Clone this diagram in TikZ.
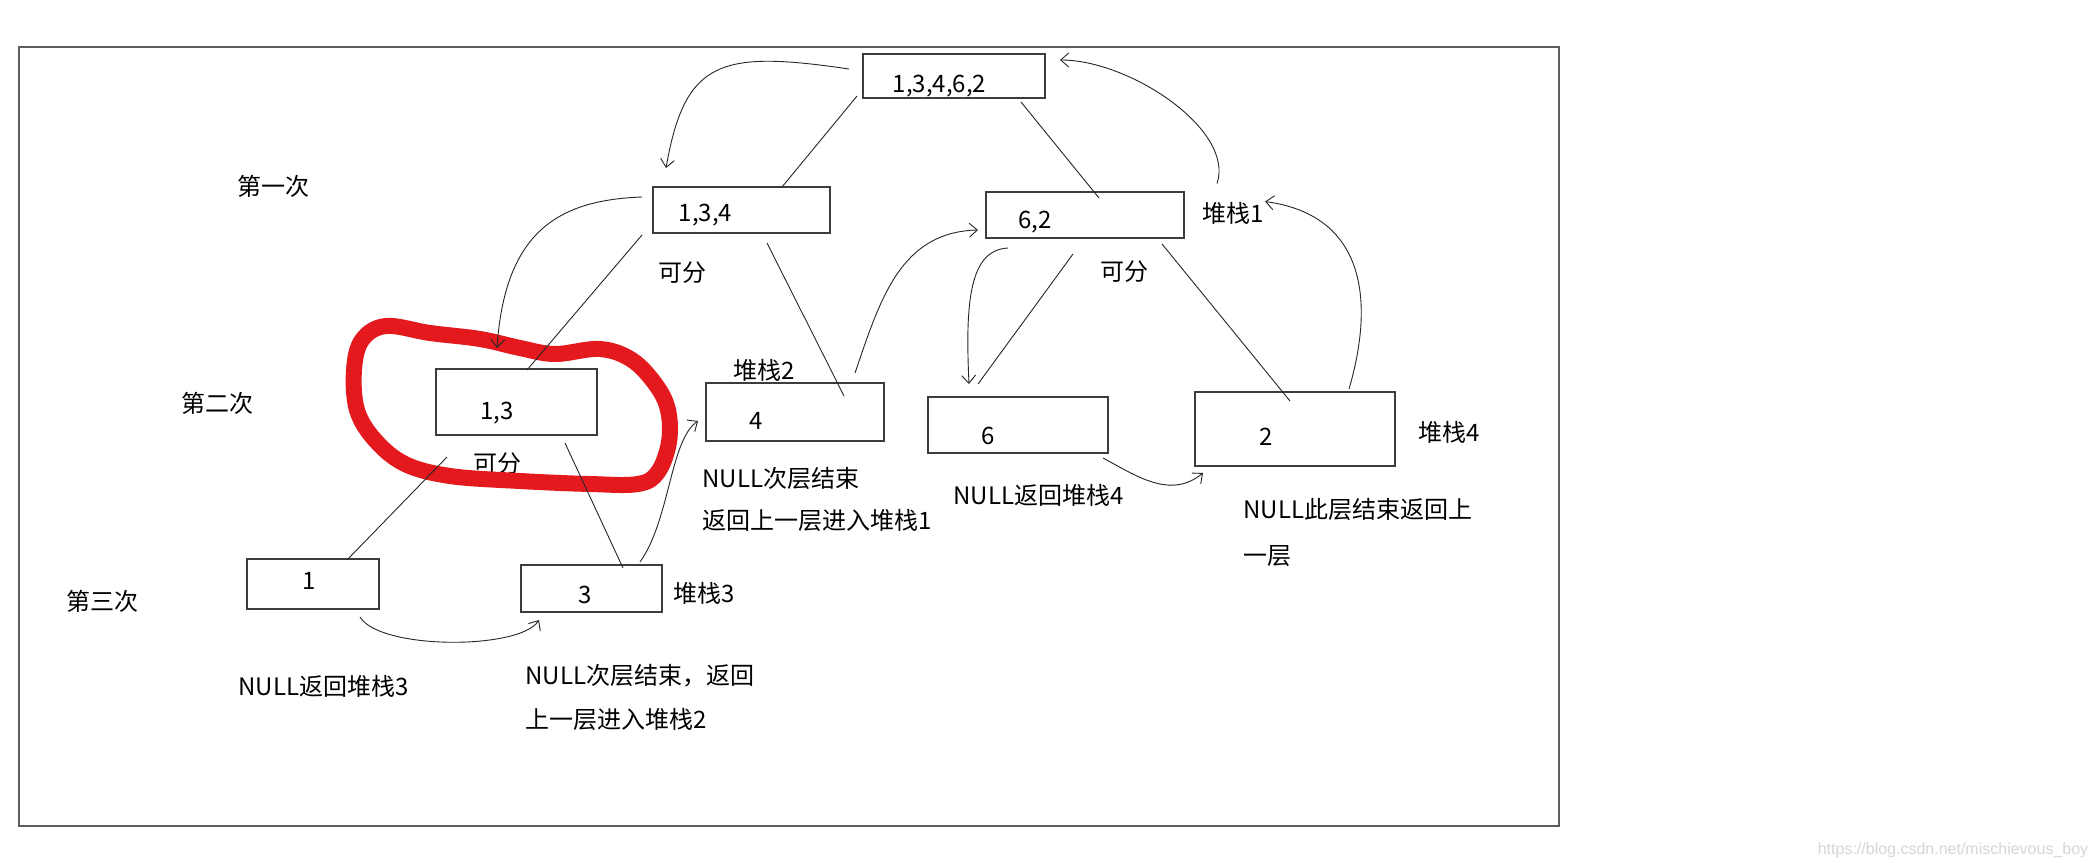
\documentclass[tikz,border=0pt]{standalone}
\usepackage{fontspec}
\setmainfont{Noto Sans CJK SC}
\newfontfamily\urlfont{Liberation Sans}
\usepackage{xcolor}
\usepackage{tikz}
\usetikzlibrary{calc, arrows.meta}

\definecolor{inkred}{HTML}{E3191E}
\definecolor{boxline}{HTML}{3C3C3C}
\definecolor{framegray}{HTML}{5E5E5E}

\begin{document}
\begin{tikzpicture}[
    x=0.5pt, y=-0.5pt,
    every node/.style={font=\fontsize{12pt}{14pt}\selectfont, inner sep=0pt},
    box/.style={rectangle, draw=boxline, line width=0.75pt, outer sep=0pt},
    num/.style={inner sep=0pt},
    note/.style={align=left, anchor=west, font=\fontsize{12pt}{#1}\selectfont},
    note/.default=22pt,
    edge/.style={line width=0.45pt, black!85},
    hand/.style={-{Straight Barb[length=4pt, width=7pt]}, line width=0.45pt, black!85},
    ring/.style={inkred, line width=8pt, line cap=round, line join=round},
]
    \fill[white] (0,0) rectangle (2097,862);
    \useasboundingbox (0,0) rectangle (2097,862);
    \draw[framegray, line width=1pt] (19,47) rectangle (1559,826);

    \node[box, minimum width=91pt, minimum height=22pt,
          label={[num, name=all-t, xshift=-7.25pt, yshift=-5pt]center:{1,3,4,6,2}}] (all) at (954,76) {};
    \node[box, minimum width=88.5pt, minimum height=23pt,
          label={[num, name=n134-t, xshift=-18pt, yshift=-2.5pt]center:{1,3,4}}] (n134) at (741.5,210) {};
    \node[box, minimum width=99pt, minimum height=23pt,
          label={[num, name=n62-t, xshift=-25pt, yshift=-3.5pt]center:{6,2}}] (n62) at (1085,215) {};
    \node[box, minimum width=80.5pt, minimum height=33pt,
          label={[num, name=n13-t, xshift=-9.75pt, yshift=-5.5pt]center:{1,3}}] (n13) at (516.5,402) {};
    \node[box, minimum width=89pt, minimum height=29pt,
          label={[num, name=n4-t, xshift=-19.5pt, yshift=-4.5pt]center:{4}}] (n4) at (795,412) {};
    \node[box, minimum width=90pt, minimum height=28pt,
          label={[num, name=n6-t, xshift=-15pt, yshift=-5.5pt]center:{6}}] (n6) at (1018,425) {};
    \node[box, minimum width=100pt, minimum height=37pt,
          label={[num, name=n2-t, xshift=-14.5pt, yshift=-4pt]center:{2}}] (n2) at (1295,429) {};
    \node[box, minimum width=66pt, minimum height=25pt,
          label={[num, name=n1-t, xshift=-2pt, yshift=1.5pt]center:{1}}] (n1) at (313,584) {};
    \node[box, minimum width=70.5pt, minimum height=23.5pt,
          label={[num, name=n3-t, xshift=-3.25pt, yshift=-3.25pt]center:{3}}] (n3) at (591.5,588.5) {};

    \node (first)  at (273,186) {第一次};
    \node (second) at (217,403) {第二次};
    \node (third)  at (102,601) {第三次};

    \node (split1) at (682,273)  {可分};
    \node (split2) at (1124,272) {可分};
    \node (split3) at (497,464)  {可分};

    \node (stk1) at (1233,213) {堆栈1};
    \node (stk2) at (764,370)  {堆栈2};
    \node (stk3) at (704,593)  {堆栈3};
    \node (stk4) at (1449,432) {堆栈4};

    \node[note=21pt] (note4) at (702,499)  {NULL次层结束\\返回上一层进入堆栈1};
    \node[note]      (note6) at (953,495)  {NULL返回堆栈4};
    \node[note=23pt] (note2) at (1243,532) {NULL此层结束返回上\\一层};
    \node[note]      (note1) at (238,686)  {NULL返回堆栈3};
    \node[note=22pt] (note3) at (525,697)  {NULL次层结束，返回\\上一层进入堆栈2};

    \node[font=\urlfont\fontsize{8pt}{9pt}\selectfont, text=black!16] (mark) at (1953,850)
        {https://blog.csdn.net/mischievous\_boy};

    \draw[ring] plot[smooth cycle, tension=0.6] coordinates {
        (386,326) (430,333) (480,339) (520,348) (555,354) (600,349) (632,360)
        (656,385) (668,410) (669,442) (658,472) (638,484) (590,484) (520,481)
        (450,476) (405,464) (375,440) (357,410) (354,370) (362,340)};

    \draw[edge] ($(all.south west)+(-6,-2)$)   -- ($(n134.north)+(40.5,0)$);
    \draw[edge] ($(all.south)+(67,4)$)         -- ($(n62.north)+(14,6)$);
    \draw[edge] ($(n134.south west)+(-11,2)$)  -- ($(n13.north)+(10.5,1)$);
    \draw[edge] ($(n134.south)+(25.5,10)$)     -- ($(n4.north)+(49,13)$);
    \draw[edge] ($(n62.south)+(-12,16)$)       -- ($(n6.north)+(-40,-13)$);
    \draw[edge] ($(n62.south east)+(-22,6)$)   -- ($(n2.north)+(-5,9)$);
    \draw[edge] ($(n13.south west)+(11,22)$)   -- ($(n1.north)+(34,1)$);
    \draw[edge] ($(n13.south)+(48.5,8)$)       -- ($(n3.north)+(31.5,3)$);

    \draw[hand] ($(all.west)+(-14,-7)$) .. controls (720,50) and (685,60) .. ($(n134.north west)+(13,-19)$);
    \draw[hand] ($(n134.west)+(-11,-13)$) .. controls (560,200) and (505,230) .. ($(n13.north)+(-19.5,-21)$);
    \draw[hand] ($(stk1.north)+(-16,-18)$) .. controls (1235,130) and (1130,60) .. ($(all.north east)+(15,6)$);
    \draw[hand] ($(n2.north)+(54,-3)$) .. controls (1375,300) and (1365,215) .. ($(stk1.north east)+(1,0)$);
    \draw[hand] ($(n4.north east)+(-29,-10)$) .. controls (880,300) and (900,232) .. ($(n62.west)+(-8,15)$);
    \draw[hand] ($(n62.south west)+(22,10)$) .. controls (970,250) and (965,300) .. ($(n6.north west)+(41,-13)$);
    \draw[hand] ($(n6.south east)+(-5,5)$) .. controls (1135,475) and (1170,500) .. ($(n2.south west)+(8,7)$);
    \draw[hand] ($(n1.south east)+(-19,8)$) .. controls (380,650) and (520,650) .. ($(n3.south west)+(18,8)$);
    \draw[hand] ($(n3.north east)+(-22,-3)$) .. controls (670,520) and (670,440) .. ($(n4.west)+(-8,9)$);
\end{tikzpicture}
\end{document}
